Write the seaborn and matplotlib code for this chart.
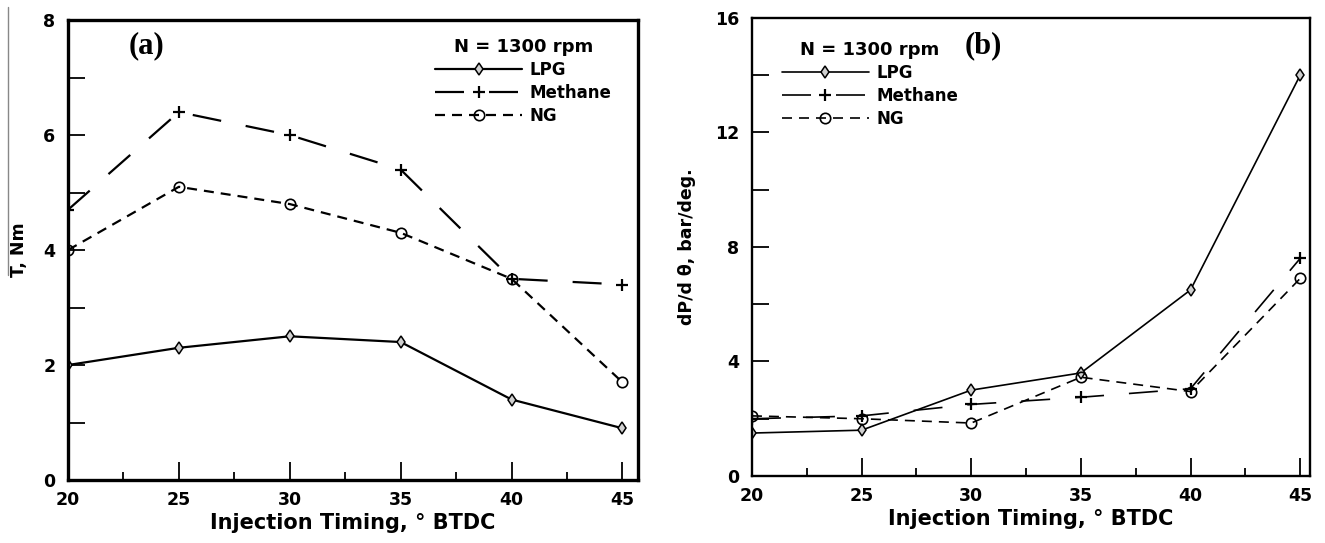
import matplotlib
matplotlib.use("Agg")
import matplotlib.pyplot as plt
from matplotlib.lines import Line2D
from matplotlib.ticker import MultipleLocator
import seaborn as sns
import pandas as pd

# Injection timing sweep (deg BTDC)
timing = [20, 25, 30, 35, 40, 45]

# (a) Brake torque, Nm
torque_lpg = [2.0, 2.3, 2.5, 2.4, 1.4, 0.9]
torque_methane = [4.7, 6.4, 6.0, 5.4, 3.5, 3.4]
torque_ng = [4.0, 5.1, 4.8, 4.3, 3.5, 1.7]

# (b) Rate of pressure rise, bar/deg
dpdt_lpg = [1.5, 1.6, 3.0, 3.6, 6.5, 14.0]
dpdt_methane = [2.0, 2.1, 2.5, 2.75, 3.05, 7.6]
dpdt_ng = [2.1, 2.0, 1.85, 3.45, 2.95, 6.9]

fuels = ["LPG", "Methane", "NG"]
x_ticks = [20, 25, 30, 35, 40, 45]

sns.set_theme(style="white")
plt.rcParams["font.family"] = ["DejaVu Sans"]
plt.rcParams.update({"text.color": "black", "axes.labelcolor": "black",
                     "xtick.color": "black", "ytick.color": "black"})

PX_PER_PT = 100 / 72


def fuel_style(fuel, lw):
    """Marker and dash pattern for a fuel; dash lengths given in pixels."""
    unit = lw * PX_PER_PT
    if fuel == "LPG":
        return dict(marker="d", markersize=6.5, linestyle="-",
                    markerfacecolor="#d0d0d0", markeredgecolor="black", markeredgewidth=1.1)
    if fuel == "Methane":
        return dict(marker="+", markersize=9, linestyle=(0, (29 / unit, 25 / unit)),
                    markeredgecolor="black", markeredgewidth=1.6)
    return dict(marker="o", markersize=7.5, linestyle=(0, (10 / unit, 7 / unit)),
                markerfacecolor="none", markeredgecolor="black", markeredgewidth=1.2)


fig = plt.figure(figsize=(13.25, 5.43), dpi=100)
ax_a = fig.add_axes([0.0513, 0.1160, 0.4302, 0.8470])
ax_b = fig.add_axes([0.5675, 0.1234, 0.4212, 0.8435])


def draw_panel(ax, series, ylim, ymajor, yminor, xmax, lw, spine_w, legend_anchor,
               ylabel, ylabelpad, tag, tag_pos):
    df = pd.DataFrame({"timing": timing * 3,
                       "value": series[0] + series[1] + series[2],
                       "fuel": [f for f in fuels for _ in timing]})
    for fuel in fuels:
        sub = df[df["fuel"] == fuel]
        sns.lineplot(data=sub, x="timing", y="value", ax=ax, color="black",
                     linewidth=lw, label=fuel, **fuel_style(fuel, lw))
    ax.set_xlim(20, xmax)
    ax.set_ylim(*ylim)
    ax.set_xticks(x_ticks)
    ax.xaxis.set_minor_locator(MultipleLocator(2.5))
    ax.yaxis.set_major_locator(MultipleLocator(ymajor))
    ax.yaxis.set_minor_locator(MultipleLocator(yminor))
    ax.tick_params(axis="both", which="both", direction="in", color="black",
                   width=1.3, labelsize=12.5)
    ax.tick_params(axis="x", which="major", length=13, pad=8)
    ax.tick_params(axis="x", which="minor", length=6)
    ax.tick_params(axis="y", which="both", length=12, pad=9)
    ax.tick_params(axis="x", which="both", bottom=True)
    ax.tick_params(axis="y", which="both", left=True)
    for lab in ax.get_xticklabels() + ax.get_yticklabels():
        lab.set_fontweight("bold")
    for sp in ax.spines.values():
        sp.set_visible(True)
        sp.set_color("black")
        sp.set_linewidth(spine_w)
    ax.set_xlabel("Injection Timing, \u00b0 BTDC", fontsize=15, fontweight="bold", labelpad=3)
    ax.set_ylabel(ylabel, fontsize=12.5, fontweight="bold", labelpad=ylabelpad)
    leg = ax.legend(title="N = 1300 rpm", loc="upper left", bbox_to_anchor=legend_anchor,
                    frameon=False, fontsize=12, handlelength=5.2, handletextpad=0.45,
                    labelspacing=0.3, borderaxespad=0,
                    title_fontproperties={"weight": "bold", "size": 13})
    for t in leg.get_texts():
        t.set_fontweight("bold")
    ax.text(tag_pos[0], tag_pos[1], tag, transform=ax.transAxes, fontsize=22, fontweight="bold",
            family="Liberation Serif", ha="center", va="center")


draw_panel(ax_a, [torque_lpg, torque_methane, torque_ng], (0, 8), 2, 1, 45.7, 1.6, 2.4,
           (0.633, 0.975), "T, Nm", 11, "(a)", (0.138, 0.945))
draw_panel(ax_b, [dpdt_lpg, dpdt_methane, dpdt_ng], (0, 16), 4, 2, 45.45, 1.2, 1.7,
           (0.042, 0.965), "dP/d \u03b8, bar/deg.", 14, "(b)", (0.415, 0.94))

# thin rule at the left edge of the figure
fig.add_artist(Line2D([0.006, 0.006], [0.987, 0.493], transform=fig.transFigure,
                      color="#888888", linewidth=1.0))

fig.savefig("out.png", dpi=100)
